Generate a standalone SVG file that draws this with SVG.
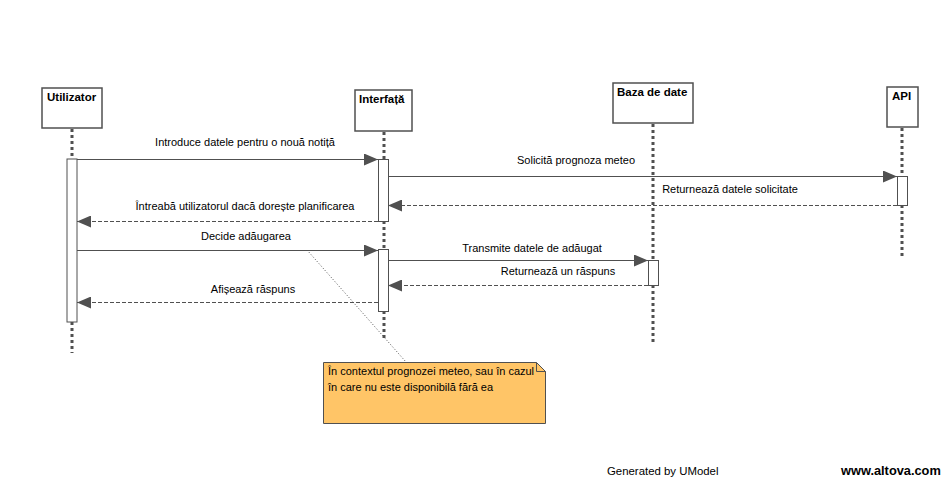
<svg xmlns="http://www.w3.org/2000/svg" width="948" height="478" viewBox="0 0 948 478">
<style>
.box{fill:#fff;stroke:#505050;stroke-width:1.5}
.act{fill:#fff;stroke:#505050;stroke-width:1}
.life{stroke:#505050;stroke-width:3;stroke-dasharray:3,3;fill:none}
.msg{stroke:#505050;stroke-width:1;fill:none}
.ret{stroke:#505050;stroke-width:1;fill:none;stroke-dasharray:4,2}
.t{font-family:"Liberation Sans",Arial,sans-serif;font-size:11px;fill:#000}
.tb{font-family:"Liberation Sans",Arial,sans-serif;font-size:11.5px;font-weight:bold;fill:#000}
.ft{font-family:"Liberation Sans",Arial,sans-serif;font-size:11.4px;fill:#000}
.fb{font-family:"Liberation Sans",Arial,sans-serif;font-size:12.8px;font-weight:bold;fill:#000}
</style>
<defs>
<marker id="ah" markerWidth="14" markerHeight="12" refX="14" refY="6" orient="auto" markerUnits="userSpaceOnUse">
<path d="M0,0 L14,6 L0,12 Z" fill="#505050"/>
</marker>
</defs>
<rect width="948" height="478" fill="#fff"/>
<g id="utilizator">
<rect class="box" x="42" y="88" width="60" height="40"/>
<text class="tb" x="47" y="101">Utilizator</text>
<line class="life" x1="72" y1="129" x2="72" y2="159"/>
<line class="life" x1="72" y1="322" x2="72" y2="353"/>
<rect class="act" x="67" y="159" width="10" height="163"/>
</g>
<g id="interfata">
<rect class="box" x="355" y="90" width="57" height="41"/>
<text class="tb" x="359" y="103">Interfață</text>
<line class="life" x1="384" y1="132" x2="384" y2="159"/>
<line class="life" x1="384" y1="221" x2="384" y2="249"/>
<line class="life" x1="384" y1="311" x2="384" y2="340"/>
<rect class="act" x="378.5" y="159.5" width="10" height="62"/>
<rect class="act" x="378.5" y="249.5" width="10" height="62"/>
</g>
<g id="baza">
<rect class="box" x="613" y="83" width="80" height="40"/>
<text class="tb" x="617" y="96">Baza de date</text>
<line class="life" x1="653" y1="124" x2="653" y2="260"/>
<line class="life" x1="653" y1="285" x2="653" y2="345"/>
<rect class="act" x="648.5" y="260.5" width="10" height="25"/>
</g>
<g id="api">
<rect class="box" x="887" y="87" width="31" height="40"/>
<text class="tb" x="892" y="100">API</text>
<line class="life" x1="902" y1="128" x2="902" y2="176"/>
<line class="life" x1="902" y1="205" x2="902" y2="256"/>
<rect class="act" x="897.5" y="176.5" width="10" height="29"/>
</g>
<g id="connectors">
<line class="msg" x1="77" y1="159.5" x2="378" y2="159.5" marker-end="url(#ah)"/>
<text class="t" x="245" y="146" text-anchor="middle">Introduce datele pentru o nouă notiță</text>
<line class="msg" x1="388" y1="176.5" x2="897" y2="176.5" marker-end="url(#ah)"/>
<text class="t" x="576" y="164" text-anchor="middle">Solicită prognoza meteo</text>
<line class="ret" x1="897" y1="205.5" x2="388" y2="205.5" marker-end="url(#ah)"/>
<text class="t" x="730" y="193" text-anchor="middle">Returnează datele solicitate</text>
<line class="ret" x1="378" y1="221.5" x2="77" y2="221.5" marker-end="url(#ah)"/>
<text class="t" x="245" y="210" text-anchor="middle">Întreabă utilizatorul dacă dorește planificarea</text>
<line class="msg" x1="77" y1="250.5" x2="378" y2="250.5" marker-end="url(#ah)"/>
<text class="t" x="246" y="240" text-anchor="middle">Decide adăugarea</text>
<line class="msg" x1="388" y1="260.5" x2="648" y2="260.5" marker-end="url(#ah)"/>
<text class="t" x="532" y="252" text-anchor="middle">Transmite datele de adăugat</text>
<line class="ret" x1="648" y1="285.5" x2="388" y2="285.5" marker-end="url(#ah)"/>
<text class="t" x="558" y="275" text-anchor="middle">Returnează un răspuns</text>
<line class="ret" x1="378" y1="302.5" x2="77" y2="302.5" marker-end="url(#ah)"/>
<text class="t" x="253" y="293" text-anchor="middle">Afișează răspuns</text>
<line x1="307" y1="250" x2="406" y2="362" stroke="#505050" stroke-width="1" stroke-dasharray="1,2"/>
</g>
<g id="note">
<path d="M323.5,362.5 H536.5 L545.5,371.5 V423.5 H323.5 Z" fill="#FFC567" stroke="#505050" stroke-width="1"/>
<path d="M536.5,362.5 V371.5 H545.5" fill="none" stroke="#505050" stroke-width="1"/>
<text class="t" x="328" y="375">În contextul prognozei meteo, sau în cazul</text>
<text class="t" x="328" y="391">în care nu este disponibilă fără ea</text>
</g>
<text class="ft" x="607" y="475">Generated by UModel</text>
<text class="fb" x="841" y="475">www.altova.com</text>
</svg>
